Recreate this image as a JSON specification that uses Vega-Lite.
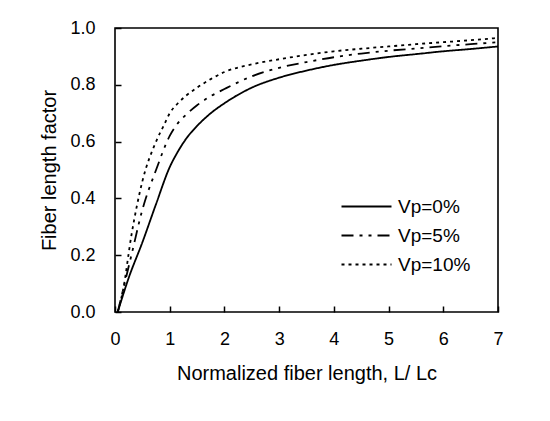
{
  "$schema": "https://vega.github.io/schema/vega-lite/v6.json",
  "autosize": {"type": "none"},
  "width": 383,
  "height": 284,
  "padding": {"left": 115, "top": 28, "right": 52, "bottom": 109},
  "background": "white",
  "config": {
    "font": "Liberation Sans",
    "view": {"stroke": "black", "strokeWidth": 1.6},
    "axis": {"domain": false, "ticks": true, "zindex": 1, "tickColor": "black", "tickOpacity": 1, "labelColor": "black", "titleColor": "black", "labelFont": "Liberation Sans", "titleFont": "Liberation Sans", "labelFontSize": 18, "titleFontSize": 20, "titleFontWeight": "normal", "grid": false, "tickWidth": 1.5, "tickSize": 6, "offset": -6}
  },
  "data": {"values": [
    {"x": 0.05, "y": 0.0, "s": "Vp=0%"},
    {"x": 0.25, "y": 0.12, "s": "Vp=0%"},
    {"x": 0.5, "y": 0.245, "s": "Vp=0%"},
    {"x": 0.75, "y": 0.38, "s": "Vp=0%"},
    {"x": 1.0, "y": 0.51, "s": "Vp=0%"},
    {"x": 1.15, "y": 0.565, "s": "Vp=0%"},
    {"x": 1.3, "y": 0.61, "s": "Vp=0%"},
    {"x": 1.5, "y": 0.655, "s": "Vp=0%"},
    {"x": 1.75, "y": 0.7, "s": "Vp=0%"},
    {"x": 2.0, "y": 0.735, "s": "Vp=0%"},
    {"x": 2.5, "y": 0.79, "s": "Vp=0%"},
    {"x": 3.0, "y": 0.825, "s": "Vp=0%"},
    {"x": 3.5, "y": 0.85, "s": "Vp=0%"},
    {"x": 4.0, "y": 0.87, "s": "Vp=0%"},
    {"x": 4.5, "y": 0.885, "s": "Vp=0%"},
    {"x": 5.0, "y": 0.898, "s": "Vp=0%"},
    {"x": 5.5, "y": 0.908, "s": "Vp=0%"},
    {"x": 6.0, "y": 0.918, "s": "Vp=0%"},
    {"x": 6.5, "y": 0.926, "s": "Vp=0%"},
    {"x": 7.0, "y": 0.935, "s": "Vp=0%"},
    {"x": 0.05, "y": 0.0, "s": "Vp=5%"},
    {"x": 0.15, "y": 0.08, "s": "Vp=5%"},
    {"x": 0.3, "y": 0.2, "s": "Vp=5%"},
    {"x": 0.5, "y": 0.36, "s": "Vp=5%"},
    {"x": 0.75, "y": 0.5, "s": "Vp=5%"},
    {"x": 1.0, "y": 0.62, "s": "Vp=5%"},
    {"x": 1.15, "y": 0.665, "s": "Vp=5%"},
    {"x": 1.3, "y": 0.695, "s": "Vp=5%"},
    {"x": 1.5, "y": 0.728, "s": "Vp=5%"},
    {"x": 1.75, "y": 0.76, "s": "Vp=5%"},
    {"x": 2.0, "y": 0.785, "s": "Vp=5%"},
    {"x": 2.5, "y": 0.83, "s": "Vp=5%"},
    {"x": 3.0, "y": 0.86, "s": "Vp=5%"},
    {"x": 3.5, "y": 0.88, "s": "Vp=5%"},
    {"x": 4.0, "y": 0.897, "s": "Vp=5%"},
    {"x": 4.5, "y": 0.91, "s": "Vp=5%"},
    {"x": 5.0, "y": 0.92, "s": "Vp=5%"},
    {"x": 5.5, "y": 0.928, "s": "Vp=5%"},
    {"x": 6.0, "y": 0.936, "s": "Vp=5%"},
    {"x": 6.5, "y": 0.943, "s": "Vp=5%"},
    {"x": 7.0, "y": 0.95, "s": "Vp=5%"},
    {"x": 0.05, "y": 0.0, "s": "Vp=10%"},
    {"x": 0.15, "y": 0.08, "s": "Vp=10%"},
    {"x": 0.3, "y": 0.27, "s": "Vp=10%"},
    {"x": 0.5, "y": 0.46, "s": "Vp=10%"},
    {"x": 0.75, "y": 0.6, "s": "Vp=10%"},
    {"x": 0.9, "y": 0.66, "s": "Vp=10%"},
    {"x": 1.0, "y": 0.7, "s": "Vp=10%"},
    {"x": 1.15, "y": 0.735, "s": "Vp=10%"},
    {"x": 1.3, "y": 0.762, "s": "Vp=10%"},
    {"x": 1.5, "y": 0.79, "s": "Vp=10%"},
    {"x": 1.75, "y": 0.82, "s": "Vp=10%"},
    {"x": 2.0, "y": 0.845, "s": "Vp=10%"},
    {"x": 2.5, "y": 0.872, "s": "Vp=10%"},
    {"x": 3.0, "y": 0.89, "s": "Vp=10%"},
    {"x": 3.5, "y": 0.905, "s": "Vp=10%"},
    {"x": 4.0, "y": 0.918, "s": "Vp=10%"},
    {"x": 4.5, "y": 0.927, "s": "Vp=10%"},
    {"x": 5.0, "y": 0.935, "s": "Vp=10%"},
    {"x": 5.5, "y": 0.943, "s": "Vp=10%"},
    {"x": 6.0, "y": 0.95, "s": "Vp=10%"},
    {"x": 6.5, "y": 0.957, "s": "Vp=10%"},
    {"x": 7.0, "y": 0.965, "s": "Vp=10%"}
  ]},
  "mark": {"type": "line", "strokeWidth": 1.8, "color": "black", "interpolate": "monotone"},
  "encoding": {
    "x": {"field": "x", "type": "quantitative", "scale": {"domain": [0, 7], "nice": false},
      "axis": {"values": [0, 1, 2, 3, 4, 5, 6, 7], "labelPadding": 18, "title": "Normalized fiber length, L/ Lc", "titlePadding": 15, "labelFlush": false}},
    "y": {"field": "y", "type": "quantitative", "scale": {"domain": [0, 1], "nice": false},
      "axis": {"values": [0, 0.2, 0.4, 0.6, 0.8, 1.0], "format": ".1f", "labelPadding": 20, "title": "Fiber length factor", "titlePadding": 10, "labelFlush": false}},
    "strokeDash": {"field": "s", "type": "nominal",
      "scale": {"domain": ["Vp=0%", "Vp=5%", "Vp=10%"], "range": [[1, 0], [12, 6, 3, 6, 3, 6], [3, 4]]},
      "legend": {"title": null, "orient": "none", "legendX": 242, "legendY": 169, "symbolType": "M-5,0H5", "symbolSize": 100, "symbolStrokeWidth": 1.8, "symbolStrokeColor": "black", "labelFontSize": 19, "labelColor": "black", "labelOffset": 22, "rowPadding": 9, "padding": 0}}
  }
}
